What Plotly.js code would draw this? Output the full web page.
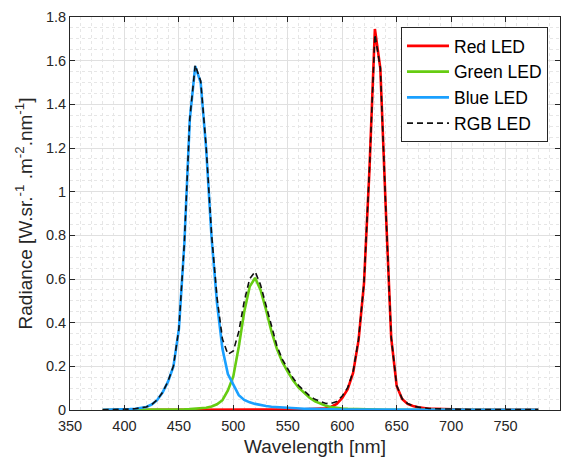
<!DOCTYPE html>
<html>
<head>
<meta charset="utf-8">
<script src="https://cdn.plot.ly/plotly-3.0.1.min.js"></script>
<style>html,body{margin:0;padding:0;background:#fff;}#chart{width:571px;height:459px;}</style>
</head>
<body>
<div id="chart"></div>
<script>
// Wavelength grid [nm]
const wavelength = [380,385,390,395,400,405,410,415,420,425,430,435,440,445,450,455,460,465,470,475,480,485,490,495,500,505,510,515,520,525,530,535,540,545,550,555,560,565,570,575,580,585,590,595,600,605,610,615,620,625,630,635,640,645,650,655,660,665,670,675,680,685,690,695,700,705,710,715,720,725,730,735,740,745,750,755,760,765,770,775,780];

const redLED = [0,0,0,0,0,0,0,0,0,0,0,0,0,0,0,0,0,0,0,0,0,0,0,0,0,0.001,0.001,0.001,0.001,0.001,0.001,0.001,0.001,0.001,0.002,0.002,0.003,0.003,0.004,0.005,0.006,0.008,0.015,0.028,0.055,0.095,0.17,0.32,0.58,1.1,1.745,1.565,0.92,0.33,0.11,0.05,0.028,0.018,0.012,0.008,0.006,0.005,0.004,0.003,0.003,0.002,0.002,0.001,0.001,0.001,0.001,0.001,0.001,0.001,0.001,0.001,0.001,0.001,0.001,0.001,0.001];

const greenLED = [0,0,0,0,0,0,0,0,0,0,0.001,0.001,0.001,0.002,0.002,0.003,0.004,0.005,0.007,0.01,0.016,0.026,0.045,0.09,0.155,0.29,0.45,0.565,0.605,0.55,0.46,0.36,0.28,0.22,0.175,0.135,0.102,0.078,0.056,0.04,0.028,0.019,0.013,0.009,0.007,0.005,0.004,0.003,0.002,0.002,0.002,0.001,0.001,0.001,0.001,0.001,0,0,0,0,0,0,0,0,0,0,0,0,0,0,0,0,0,0,0,0,0,0,0,0,0];

const blueLED = [0.001,0.001,0.002,0.002,0.003,0.004,0.006,0.009,0.014,0.025,0.045,0.08,0.13,0.2,0.37,0.76,1.33,1.575,1.5,1.2,0.79,0.49,0.28,0.165,0.115,0.068,0.046,0.035,0.028,0.022,0.018,0.015,0.013,0.011,0.009,0.008,0.007,0.006,0.005,0.004,0.004,0.003,0.003,0.002,0.002,0.002,0.002,0.001,0.001,0.001,0.001,0.001,0.001,0.001,0.001,0.001,0.001,0.001,0.001,0.001,0.001,0.001,0.001,0.001,0.001,0.001,0.001,0.001,0.001,0.001,0.001,0.001,0.001,0.001,0.001,0.001,0.001,0.001,0.001,0.001,0.001];

const rgbLED = [0.001,0.001,0.002,0.002,0.003,0.004,0.006,0.009,0.014,0.025,0.046,0.081,0.131,0.202,0.372,0.763,1.334,1.58,1.507,1.21,0.806,0.516,0.325,0.255,0.27,0.359,0.497,0.601,0.634,0.573,0.479,0.376,0.294,0.232,0.186,0.145,0.112,0.087,0.065,0.049,0.038,0.03,0.031,0.039,0.064,0.102,0.176,0.324,0.583,1.103,1.72,1.567,0.922,0.332,0.112,0.052,0.03,0.019,0.013,0.009,0.007,0.006,0.005,0.004,0.004,0.003,0.003,0.002,0.002,0.002,0.002,0.002,0.002,0.002,0.002,0.002,0.002,0.002,0.002,0.002,0.002];

const seriesNames = ['Red LED','Green LED','Blue LED','RGB LED'];
const xTickVals = [350,400,450,500,550,600,650,700,750,800];
const yTickVals = [0,0.2,0.4,0.6,0.8,1,1.2,1.4,1.6,1.8];

const FONT = 'Liberation Sans, Arial, Helvetica, sans-serif';
const AX = '#262626';

const traces = [
  {x: wavelength, y: redLED, name: seriesNames[0], mode: 'lines', legendgroup: 'r',
   line: {color: '#ff0000', width: 2.6}},
  {x: wavelength, y: greenLED, name: seriesNames[1], mode: 'lines', legendgroup: 'g',
   line: {color: '#66cc11', width: 2.6}},
  {x: wavelength, y: blueLED, name: seriesNames[2], mode: 'lines', legendgroup: 'b',
   line: {color: '#1aa0ff', width: 2.6}},
  {x: wavelength, y: rgbLED, name: seriesNames[3], mode: 'lines', legendgroup: 'k',
   line: {color: '#111111', width: 1.6, dash: '6px,4px'}}
];

const axisCommon = {
  showline: true, linecolor: AX, linewidth: 1, mirror: 'ticks',
  ticks: 'inside', ticklen: 5, tickcolor: AX, tickwidth: 1,
  showgrid: true, gridcolor: '#e0e0e0', gridwidth: 1, zeroline: false,
  tickfont: {family: FONT, size: 14.5, color: AX}
};

const layout = {
  width: 571, height: 459,
  margin: {l: 70, r: 11, t: 17, b: 49},
  paper_bgcolor: '#ffffff', plot_bgcolor: '#ffffff',
  font: {family: FONT, color: AX},
  showlegend: true,
  xaxis: Object.assign({}, axisCommon, {
    range: [350, 800], tickvals: xTickVals, ticklabelstandoff: 3,
    minor: {dtick: 10, showgrid: true, gridcolor: '#e6e6e6', griddash: 'dot', gridwidth: 1, ticks: ''},
    title: {text: 'Wavelength [nm]', font: {family: FONT, size: 19, color: AX}, standoff: 6}
  }),
  yaxis: Object.assign({}, axisCommon, {
    range: [0, 1.8], tickvals: yTickVals,
    minor: {dtick: 0.05, showgrid: true, gridcolor: '#e6e6e6', griddash: 'dot', gridwidth: 1, ticks: ''},
    title: {text: 'Radiance [W.sr.<sup>-1</sup> .m<sup>-2</sup>.nm<sup>-1</sup>]', font: {family: FONT, size: 19, color: AX}, standoff: 8}
  }),
  legend: {
    x: 0.9755, y: 0.9745, xanchor: 'right', yanchor: 'top',
    bgcolor: '#ffffff', bordercolor: AX, borderwidth: 1,
    font: {family: FONT, size: 17.5, color: '#000000'},
    tracegroupgap: 0, traceorder: 'normal', itemwidth: 42
  }
};

Plotly.newPlot('chart', traces, layout, {displayModeBar: false, staticPlot: true});
</script>
</body>
</html>
